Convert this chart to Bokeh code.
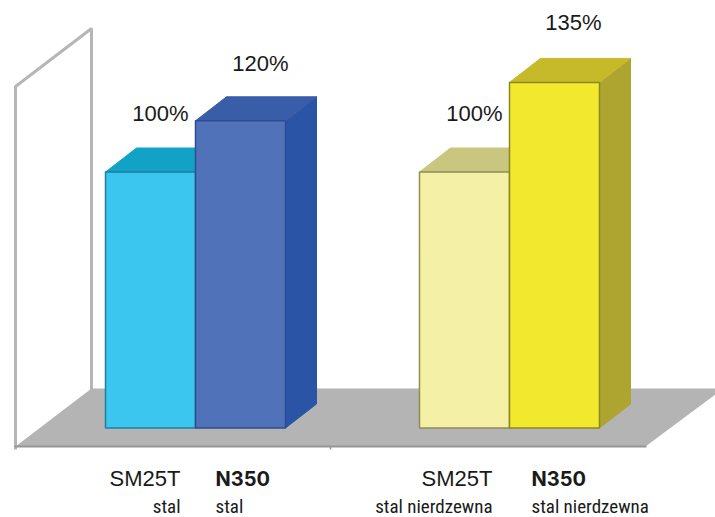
from bokeh.plotting import figure
from bokeh.embed import file_html
from bokeh.resources import INLINE
from bokeh.core.properties import value

materials = ["SM25T", "N350", "SM25T", "N350"]
grades = ["stal", "stal", "stal nierdzewna", "stal nierdzewna"]
percent = [100, 120, 100, 135]
labels = ["100%", "120%", "100%", "135%"]
front_colors = ["#3BC6F0", "#5072B9", "#F4F1A6", "#F2E92E"]
top_colors = ["#12A2C6", "#3A5DA9", "#C9C67F", "#C6BA2A"]
side_colors = ["#0F8FB0", "#2A55A6", "#B5B16A", "#AEA530"]
edge_colors = ["#1C7F9E", "#2F4C8C", "#8F8C58", "#8E8620"]

# layout, in window pixels
W, H = 715, 517
BASE = 427.5          # window y of value 0
PX = 2.56             # pixels per percent
BAR_W = 90
DX, DY = 31, 24
lefts = [105, 195, 419, 509]
label_dx = [55, 65, 55, 64]
label_dy = [59, 57, 59, 60]
text_x = [180, 215, 492, 531]
aligns = ["right", "left", "right", "left"]


def sy(y):
    return (BASE - y) / PX


p = figure(width=W, height=H, x_range=(0, W), y_range=(sy(H), sy(0)),
           output_backend="svg", toolbar_location=None, min_border=0,
           outline_line_color=None, background_fill_color="white")
p.xaxis.visible = False
p.yaxis.visible = False
p.grid.visible = False

# back wall
wall = "#B6B6B6"
p.line([15, 15, 91, 91], [sy(449), sy(86), sy(28), sy(392)], line_color=wall, line_width=3)

# floor
p.patch([15, 91, 723, 645], [sy(446), sy(388), sy(388), sy(446)], fill_color="#B4B4B4", line_color=None)
p.line([14, 646], [sy(446), sy(446)], line_color="#969696", line_width=2)
p.line([330, 330], [sy(446), sy(449)], line_color="#969696", line_width=1.5)

# depth faces
ys_top = []
xs_top = []
xs_side = []
ys_side = []
d = DY / PX
for x, v in zip(lefts, percent):
    xs_top.append([x, x + DX, x + BAR_W + DX, x + BAR_W])
    ys_top.append([v, v + d, v + d, v])
    xs_side.append([x + BAR_W, x + BAR_W + DX, x + BAR_W + DX, x + BAR_W])
    ys_side.append([v, v + d, d, 0])
p.patches(xs_side, ys_side, fill_color=side_colors, line_color=side_colors, line_width=1)
p.patches(xs_top, ys_top, fill_color=top_colors, line_color=top_colors, line_width=1)

# fronts
p.quad(left=lefts, right=[x + BAR_W for x in lefts], bottom=[0] * 4, top=percent,
       fill_color=front_colors, line_color=edge_colors, line_width=1.5)

# value labels
p.text(x=[x + o for x, o in zip(lefts, label_dx)],
       y=[v + o / PX for v, o in zip(percent, label_dy)],
       text=labels, text_font=value("Liberation Sans"), text_font_size="22px",
       text_color="#1a1a1a", text_align="center", text_baseline="alphabetic")

# category labels
for x, m, g, a, bold in zip(text_x, materials, grades, aligns, [False, True, False, True]):
    p.text(x=[x], y=[sy(478)], text=[m], text_font=value("Inter" if bold else "Liberation Sans"),
           text_font_size="20px" if bold else "22px",
           text_font_style="bold" if bold else "normal", text_color="#1a1a1a",
           text_align=a, text_baseline="alphabetic")
    p.text(x=[x], y=[sy(506)], text=[g], text_font=value("Roboto Condensed"), text_font_size="19px",
           text_color="#1a1a1a", text_align=a, text_baseline="alphabetic")

open("out.html", "w").write(file_html(p, INLINE))
